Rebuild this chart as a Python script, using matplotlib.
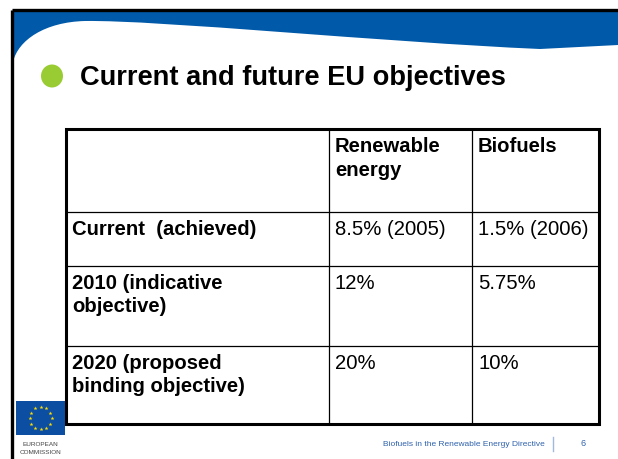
import numpy as np
import matplotlib
matplotlib.use("Agg")
import matplotlib.pyplot as plt
import matplotlib.patches as patches
from matplotlib.path import Path

# --- slide content ---
title = "Current and future EU objectives"
col_headers = ["", "Renewable\nenergy", "Biofuels"]
row_labels = ["Current  (achieved)", "2010 (indicative\nobjective)",
              "2020 (proposed\nbinding objective)"]
renewable = ["8.5% (2005)", "12%", "20%"]
biofuels = ["1.5% (2006)", "5.75%", "10%"]
footer = "Biofuels in the Renewable Energy Directive"
page_no = "6"

# --- layout in pixel units (origin top-left) ---
W, H = 618, 459
col_x = [66, 329, 472, 599]
row_y = [129, 212, 266, 346, 424]

FONT = "Liberation Sans"
BLUE = "#0059a9"
GREEN = "#99cc33"

fig = plt.figure(figsize=(W / 100, H / 100), dpi=100)
ax = fig.add_axes([0, 0, 1, 1])
ax.set_xlim(0, W)
ax.set_ylim(H, 0)
ax.axis("off")

# blue wave header
verts = [(13, 11), (618, 11), (618, 45), (540, 49),
         (380, 42), (160, 20), (85, 21),
         (45, 22), (18, 40), (13, 62), (13, 11)]
codes = [Path.MOVETO, Path.LINETO, Path.LINETO, Path.LINETO,
         Path.CURVE4, Path.CURVE4, Path.CURVE4,
         Path.CURVE4, Path.CURVE4, Path.CURVE4, Path.CLOSEPOLY]
ax.add_patch(patches.PathPatch(Path(verts, codes), facecolor=BLUE,
                               edgecolor="none"))

# slide frame (top and left)
ax.plot([11.5, W], [9.5, 9.5], color="black", lw=2.4, solid_capstyle="butt")
ax.plot([11.5, 11.5], [9.5, H], color="black", lw=2.4, solid_capstyle="butt")

# bullet + title
ax.add_patch(patches.Ellipse((52, 76), 22, 23, facecolor=GREEN,
                             edgecolor="none"))
ax.text(80, 78, title, fontsize=19.6, fontweight="bold", family=FONT,
        va="center", ha="left", color="black")

# table grid
for x in col_x[1:-1]:
    ax.plot([x, x], [row_y[0], row_y[-1]], color="black", lw=0.9)
for y in row_y[1:-1]:
    ax.plot([col_x[0], col_x[-1]], [y, y], color="black", lw=0.9)
ax.add_patch(patches.Rectangle((col_x[0], row_y[0]), col_x[-1] - col_x[0],
                               row_y[-1] - row_y[0], fill=False,
                               edgecolor="black", lw=2.2))

pad_x, pad_y = 6, 8
cells = [col_headers] + [[r, a, b] for r, a, b in zip(row_labels, renewable,
                                                       biofuels)]
for i, row in enumerate(cells):
    for j, txt in enumerate(row):
        if not txt:
            continue
        bold = (i == 0) or (j == 0)
        ax.text(col_x[j] + pad_x, row_y[i] + pad_y, txt, fontsize=14.6,
                fontweight="bold" if bold else "normal", family=FONT,
                va="top", ha="left", color="black", linespacing=1.3)

# EU flag
ax.add_patch(patches.Rectangle((16, 401), 49, 34, facecolor="#0b4ea2",
                               edgecolor="none"))
ang = np.linspace(0, 2 * np.pi, 12, endpoint=False)
ax.scatter(40.5 + 11 * np.cos(ang), 418 + 11 * np.sin(ang), marker="*",
           s=9, color="#ffdd00", linewidths=0, zorder=3)
ax.text(40.5, 444, "EUROPEAN", fontsize=4.6, family=FONT, ha="center",
        va="center", color="#444444")
ax.text(40.5, 452, "COMMISSION", fontsize=4.6, family=FONT, ha="center",
        va="center", color="#444444")

# footer
ax.text(545, 444, footer, fontsize=6.0, family=FONT, ha="right",
        va="center", color="#2f62ad")
ax.plot([553, 553], [437, 451], color="#9fb9e0", lw=1)
ax.text(583, 444, page_no, fontsize=6.5, family=FONT, ha="center",
        va="center", color="#2f62ad")

fig.savefig("out.png", dpi=100)
